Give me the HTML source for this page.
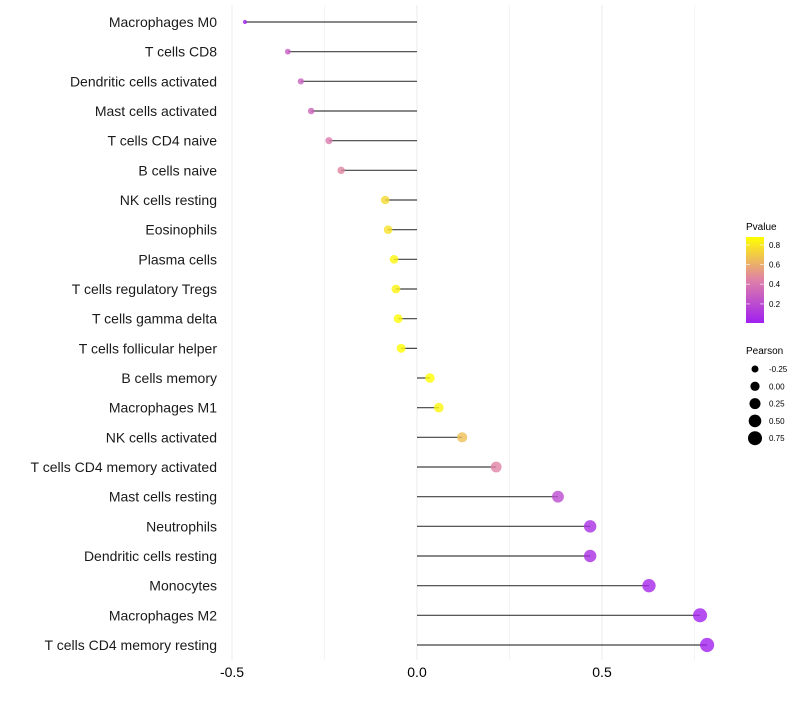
<!DOCTYPE html>
<html><head><meta charset="utf-8"><style>
body{margin:0;background:#fff;font-family:"Liberation Sans",sans-serif}
svg text{font-family:"Liberation Sans",sans-serif}
</style></head><body>
<svg id="chart" width="800" height="700" xmlns="http://www.w3.org/2000/svg">
<defs><linearGradient id="pg" x1="0" y1="1" x2="0" y2="0">
<stop offset="0" stop-color="#a020f0"/><stop offset="0.5" stop-color="#df80a8"/><stop offset="1" stop-color="#ffff00"/>
</linearGradient></defs>
<g id="grid"></g>
<g id="marks"></g>
<g id="ylabels"></g>
<g id="xlabels"></g>
<g>
<text x="746" y="230" font-size="10">Pvalue</text>
<rect x="746" y="237" width="18" height="86" fill="url(#pg)"/>
<g id="cbticks"></g>
</g>
<g id="sizelegend">
<text x="746" y="354" font-size="10">Pearson</text>
</g>
</svg>
<script>
const categories=["Macrophages M0","T cells CD8","Dendritic cells activated","Mast cells activated","T cells CD4 naive","B cells naive","NK cells resting","Eosinophils","Plasma cells","T cells regulatory  Tregs ","T cells gamma delta","T cells follicular helper","B cells memory","Macrophages M1","NK cells activated","T cells CD4 memory activated","Mast cells resting","Neutrophils","Dendritic cells resting","Monocytes","Macrophages M2","T cells CD4 memory resting"];
const pearson=[-0.465,-0.349,-0.314,-0.286,-0.238,-0.205,-0.086,-0.078,-0.062,-0.057,-0.051,-0.043,0.035,0.059,0.122,0.214,0.381,0.468,0.468,0.627,0.765,0.784];
const pvalue=[0.01,0.28,0.3,0.32,0.42,0.46,0.75,0.78,0.85,0.84,0.87,0.88,0.88,0.85,0.66,0.45,0.2,0.07,0.07,0.04,0.02,0.01];
const xTicks=[-0.5,0,0.5];
const xTickLabels=["-0.5","0.0","0.5"];
const cbTicks=[0.2,0.4,0.6,0.8];
const sizeTicks=[-0.25,0,0.25,0.5,0.75];
const sizeTickLabels=["-0.25","0.00","0.25","0.50","0.75"];
const NS="http://www.w3.org/2000/svg";
const x=v=>417+v*370;
const y=i=>22+i*(623/21);
const r=v=>Math.sqrt(Math.max(1,21.4+36.75*v));
const pMin=0.006,pMax=0.88;
function lerp(a,b,t){return a.map((c,k)=>Math.round(c+(b[k]-c)*t));}
function col(p){let t=Math.min(1,Math.max(0,(p-pMin)/(pMax-pMin)));const s=[[160,32,240],[223,128,168],[255,255,0]];let c=t<0.5?lerp(s[0],s[1],t*2):lerp(s[1],s[2],(t-0.5)*2);return `rgb(${c})`;}
function mk(tag,at,parent){const e=document.createElementNS(NS,tag);for(const k in at)e.setAttribute(k,at[k]);parent.appendChild(e);return e;}
const grid=document.getElementById('grid'),marks=document.getElementById('marks'),yl=document.getElementById('ylabels'),xl=document.getElementById('xlabels');
[-0.5,-0.25,0,0.25,0.5,0.75].forEach(v=>{const l=mk('line',{x1:x(v),x2:x(v),y1:5,y2:660,stroke:v%0.5===0?'#ebebeb':'#f4f4f4','stroke-width':1},grid);

});
xTicks.forEach((v,i)=>{const t=mk('text',{x:x(v),y:677,'font-size':14,'text-anchor':'middle',fill:'#000'},xl);t.textContent=xTickLabels[i];

});
categories.forEach((c,i)=>{
const t=mk('text',{x:217,y:y(i)+5,'font-size':14,'text-anchor':'end',fill:'#1a1a1a'},yl);t.textContent=c;


const l=mk('line',{x1:x(0),x2:x(pearson[i]),y1:y(i),y2:y(i),stroke:'#000','stroke-opacity':0.75,'stroke-width':1.2},marks);


const p=mk('circle',{cx:x(pearson[i]),cy:y(i),r:r(pearson[i]),fill:col(pvalue[i]),'fill-opacity':0.8},marks);


});
const cb=document.getElementById('cbticks');
cbTicks.forEach(v=>{const yy=323-(v-pMin)/(pMax-pMin)*86;
mk('line',{x1:746,x2:750,y1:yy,y2:yy,stroke:'#fff','stroke-opacity':0.6},cb);mk('line',{x1:760,x2:764,y1:yy,y2:yy,stroke:'#fff','stroke-opacity':0.6},cb);
const t=mk('text',{x:769,y:yy+3,'font-size':8,fill:'#000'},cb);t.textContent=v.toFixed(1);

});
const sl=document.getElementById('sizelegend');
sizeTicks.forEach((v,i)=>{const yy=369+i*17.3;const c=mk('circle',{cx:755,cy:yy,r:r(v),fill:'#000'},sl);


const t=mk('text',{x:769,y:yy+3,'font-size':8,fill:'#000'},sl);t.textContent=sizeTickLabels[i];

});
</script>
</body></html>
